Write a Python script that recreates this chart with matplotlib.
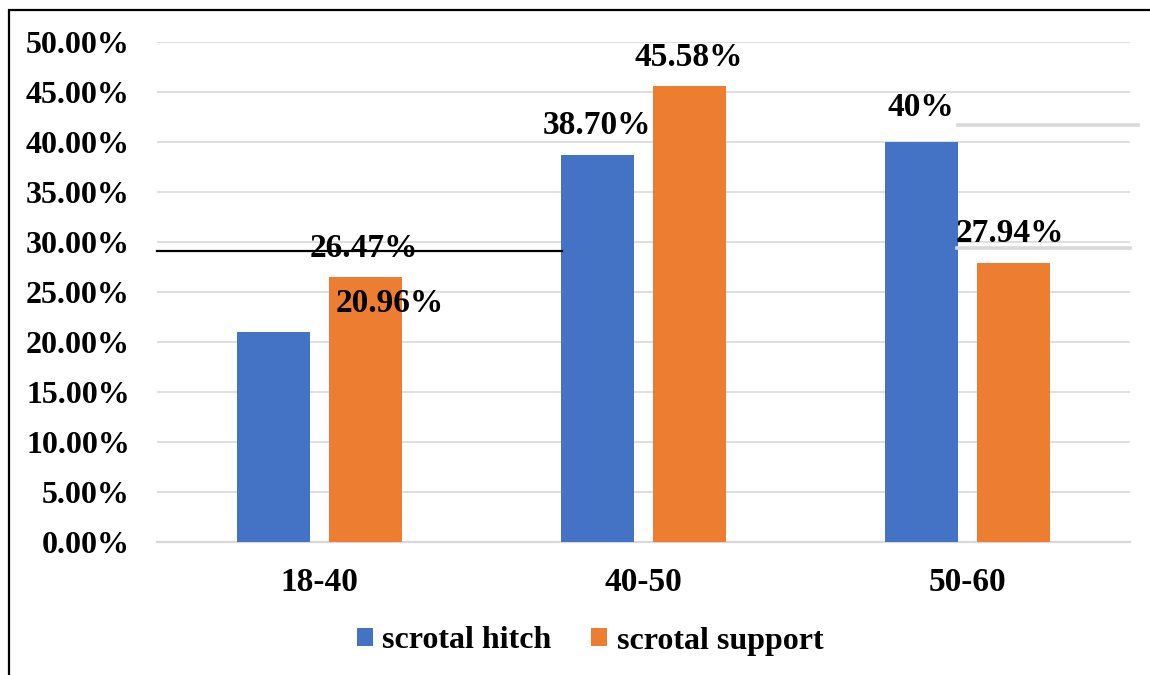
import matplotlib
matplotlib.use("Agg")
import matplotlib.pyplot as plt
import numpy as np
from matplotlib.lines import Line2D
from matplotlib.patches import Rectangle
from matplotlib.ticker import PercentFormatter

# Datos
grupos = ["18-40", "40-50", "50-60"]
series = ["scrotal hitch", "scrotal support"]
hitch = [20.96, 38.70, 40.0]
support = [26.47, 45.58, 27.94]
etiquetas_hitch = ["20.96%", "38.70%", "40%"]
etiquetas_support = ["26.47%", "45.58%", "27.94%"]
colores = ["#4472C4", "#ED7D31"]

# desplazamiento de cada etiqueta respecto al tope de su barra (pixeles)
desp_hitch = [(117, 29), (-1, 29), (-1, 34)]
desp_support = [(-1, 29), (-1, 29), (-4, 29)]

plt.rcParams["font.family"] = ["Liberation Serif", "DejaVu Serif"]
plt.rcParams["font.weight"] = "bold"

fig = plt.figure(figsize=(11.5, 6.75), dpi=100)
ax = fig.add_axes([157 / 1150, 1 - 542 / 675, (1130 - 157) / 1150, 500 / 675])

x = np.arange(len(grupos))
ancho = 0.225
sep = 0.142

b1 = ax.bar(x - sep, hitch, ancho, color=colores[0], label=series[0], zorder=3)
b2 = ax.bar(x + sep, support, ancho, color=colores[1], label=series[1], zorder=3)

for barras, textos, desp in [(b1, etiquetas_hitch, desp_hitch),
                             (b2, etiquetas_support, desp_support)]:
    for barra, texto, (dx, dy) in zip(barras, textos, desp):
        ax.annotate(texto, (barra.get_x() + barra.get_width() / 2, barra.get_height()),
                    xytext=(dx, dy), textcoords="offset pixels",
                    ha="center", va="center", fontsize=24, fontweight="bold",
                    zorder=5)

ax.set_xlim(-0.5, 2.5)
ax.set_ylim(0, 50)
ax.set_yticks(np.arange(0, 51, 5))
ax.yaxis.set_major_formatter(PercentFormatter(decimals=2))
ax.set_xticks(x)
ax.set_xticklabels(grupos)
ax.tick_params(axis="both", length=0)
ax.tick_params(axis="y", pad=19.5, labelsize=23)
ax.tick_params(axis="x", pad=18, labelsize=24)
for lab in ax.get_xticklabels() + ax.get_yticklabels():
    lab.set_fontweight("bold")

ax.grid(axis="y", color="#d9d9d9", linewidth=1.2, zorder=0)
for lado in ["top", "right", "left"]:
    ax.spines[lado].set_visible(False)
ax.spines["bottom"].set_color("#d9d9d9")
ax.spines["bottom"].set_linewidth(1.6)

ley = fig.legend(handles=[b1, b2], labels=series, loc="center",
                 bbox_to_anchor=(590 / 1150, 1 - 641 / 675), ncol=2,
                 frameon=False, fontsize=23, handlelength=0.5, handleheight=0.5,
                 handletextpad=0.3, columnspacing=1.23)
for t in ley.get_texts():
    t.set_fontweight("bold")

# marco exterior y trazos sueltos del grafico
def px(xp, yp):
    return xp / 1150, 1 - yp / 675

fig.add_artist(Rectangle(px(9, 720), 1200 / 1150, 710 / 675, fill=False,
                         edgecolor="black", linewidth=1.6,
                         transform=fig.transFigure))
for (x0, x1, y0, color, lw) in [(157, 562, 251, "black", 1.6),
                                (958, 1138, 125, "#d9d9d9", 2.6),
                                (957, 1130, 248, "#d9d9d9", 2.6)]:
    (fx0, fy), (fx1, _) = px(x0, y0), px(x1, y0)
    fig.add_artist(Line2D([fx0, fx1], [fy, fy], color=color, linewidth=lw,
                          transform=fig.transFigure, zorder=1))

fig.savefig("out.png", dpi=100)
